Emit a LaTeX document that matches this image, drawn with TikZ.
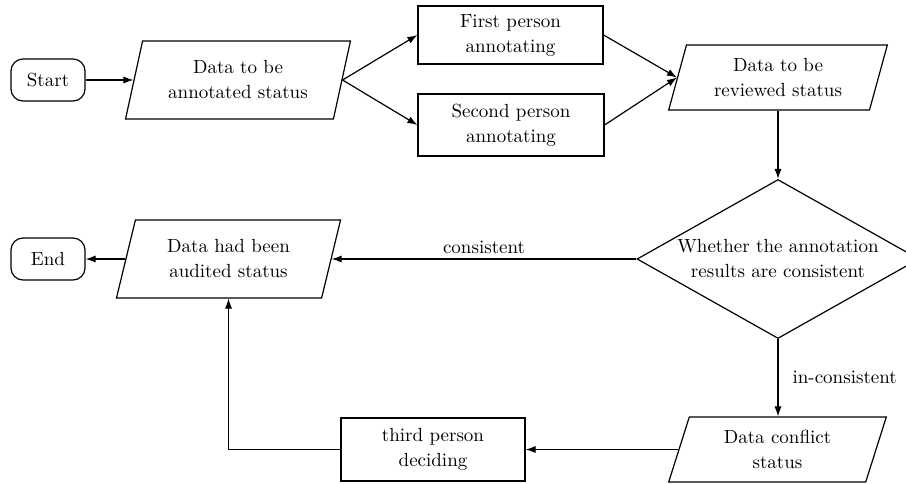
\documentclass[tikz,border=0pt]{standalone}
\usetikzlibrary{shapes.geometric,arrows.meta,calc}
\begin{document}
\begin{tikzpicture}[x=0.5pt,y=-0.5pt,
  every node/.style={font=\fontsize{9.5}{12.5}\selectfont, align=center, inner sep=0pt},
  term/.style={draw, line width=0.6pt, rounded corners=6pt, minimum width=37pt, minimum height=21pt},
  proc/.style={draw, line width=0.6pt, minimum width=92.5pt, minimum height=30pt},
  data/.style={draw, line width=0.6pt, trapezium, trapezium left angle=72, trapezium right angle=108, trapezium stretches=true},
  dec/.style={draw, line width=0.6pt, diamond, minimum width=141pt, minimum height=79.5pt},
  arr/.style={-{Latex[length=5pt,width=3.6pt]}, line width=0.6pt},
  lab/.style={font=\fontsize{9.5}{12.5}\selectfont}
]
\useasboundingbox (0,0) rectangle (906,483);

\node[term] (start) at (48,80) {Start};
\node[data, minimum width=113pt, minimum height=39pt] (annot) at (238,80) {Data to be\\annotated status};
\node[proc, minimum height=29pt] (first) at (510.5,35) {First person\\annotating};
\node[proc, minimum width=93pt, minimum height=31pt] (second) at (511,125) {Second person\\annotating};
\node[data, minimum width=110pt, minimum height=32.5pt] (review) at (778,77.5) {Data to be\\reviewed status};
\node[dec] (dec) at (778,259) {};
\node (dectext) at (dec.center) {Whether the annotation\\results are consistent};
\node[data, minimum width=112.5pt, minimum height=39pt] (audited) at (228.5,259) {Data had been\\audited status};
\node[term] (end) at (48,259) {End};
\node[proc, minimum width=92pt, minimum height=31.5pt] (third) at (433,449.5) {third person\\deciding};
\node[data, minimum width=109.5pt, minimum height=32.5pt] (conflict) at (777.5,449.5) {Data conflict\\status};

\draw[arr] (start.east) -- (annot.left side);
\draw[arr] (annot.right side) -- (first.west);
\draw[arr] (annot.right side) -- (second.west);
\draw[arr] (first.east) -- (review.left side);
\draw[arr] (second.east) -- (review.left side);
\draw[arr] (review.south -| dec.north) -- (dec.north);
\draw[arr] (dec.west) -- node[lab, above=2.5pt] (lc) {consistent} (audited.right side);
\draw[arr] (audited.left side) -- (end.east);
\draw[arr] (dec.south) -- node[lab, right=7pt] (li) {in-consistent} (dec.south |- conflict.north);
\draw[arr] (conflict.left side) -- (third.east);
\draw[arr] (third.west) -| (audited.south);
\end{tikzpicture}
\end{document}
